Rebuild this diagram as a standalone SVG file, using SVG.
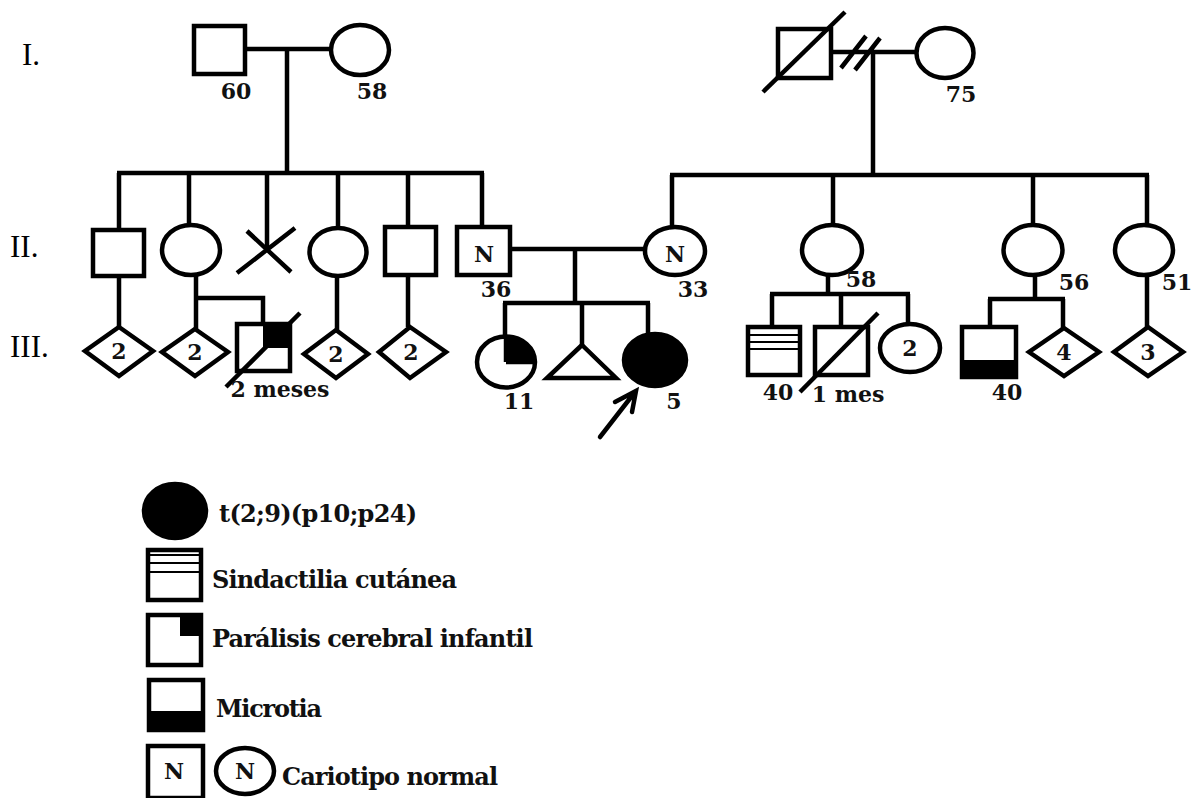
<svg xmlns="http://www.w3.org/2000/svg" width="1197" height="798" viewBox="0 0 1197 798">
<style>
.s{fill:#fff;stroke:#000;stroke-width:4.5}
.f{fill:#000;stroke:#000;stroke-width:4.5}
.b{fill:#000;stroke:none}
.l{fill:none;stroke:#000;stroke-width:4.5}
.t{fill:none;stroke:#000;stroke-width:2}
.lab{font-family:"DejaVu Serif","Liberation Serif",serif;font-weight:bold;font-size:22px;fill:#111;text-anchor:middle}
.leg{font-family:"DejaVu Serif","Liberation Serif",serif;font-weight:bold;font-size:24px;fill:#111}
.gen{font-family:"Liberation Serif",serif;font-size:31px;fill:#000}
</style>
<rect width="1197" height="798" fill="#fff"/>
<g id="generation-labels">
<text class="gen" x="22" y="65">I.</text>
<text class="gen" x="10" y="257">II.</text>
<text class="gen" x="10" y="357">III.</text>
</g>
<g id="connectors">
<path class="l" d="M247,49H331 M287,49V173 M117,173H484 M119,173V230 M189,173V225 M267,173V250 M338,173V228 M408,173V227 M482,173V227"/>
<path class="l" d="M833,52H916 M841,68L866,36 M855,70L880,38 M873,52V175 M670,175H1149 M672,175V226 M833,175V225 M1033,175V225 M1147,175V225"/>
<path class="l" d="M512,249H644 M575,249V303 M503,303H650 M505,303V336 M582,303V345 M648,303V333"/>
<path class="l" d="M119,276V326 M196,275V329 M196,298H263V324 M337,276V330 M408,275V327"/>
<path class="l" d="M828,275V294 M770,294H910 M772,294V327 M841,294V327 M908,294V324 M1035,275V299 M988,299H1065 M990,299V327 M1063,299V328 M1147,275V327"/>
<path class="l" stroke-linecap="round" d="M600,437L635,392 M615,402L636,391L632,412"/>
</g>
<g id="I-1"><rect class="s" x="194" y="26" width="51" height="48"/><text class="lab" x="236" y="99">60</text></g>
<g id="I-2"><ellipse class="s" cx="360" cy="50" rx="29" ry="25"/><text class="lab" x="372" y="99">58</text></g>
<g id="I-3"><rect class="s" x="778" y="29" width="53" height="49"/><path class="l" d="M763,92L845,12"/></g>
<g id="I-4"><ellipse class="s" cx="945" cy="53" rx="28.5" ry="25"/><text class="lab" x="961" y="102">75</text></g>
<g id="II-1"><rect class="s" x="93" y="230" width="51" height="46"/></g>
<g id="II-2"><ellipse class="s" cx="191" cy="250" rx="29" ry="25"/></g>
<g id="II-3"><path class="l" d="M237,273L295,228 M247,231L291,272"/></g>
<g id="II-4"><ellipse class="s" cx="338" cy="252" rx="28.5" ry="24"/></g>
<g id="II-5"><rect class="s" x="385" y="227" width="51" height="48"/></g>
<g id="II-6"><rect class="s" x="457" y="227" width="53" height="48"/><text class="lab" x="484" y="262">N</text><text class="lab" x="496" y="297">36</text></g>
<g id="II-7"><ellipse class="s" cx="675" cy="251" rx="30" ry="24"/><text class="lab" x="675" y="262">N</text><text class="lab" x="693" y="297">33</text></g>
<g id="II-8"><ellipse class="s" cx="832" cy="250" rx="30" ry="25"/><text class="lab" x="861" y="287">58</text></g>
<g id="II-9"><ellipse class="s" cx="1033" cy="250" rx="29.5" ry="25"/><text class="lab" x="1074" y="290">56</text></g>
<g id="II-10"><ellipse class="s" cx="1144" cy="250" rx="29" ry="25"/><text class="lab" x="1177" y="290">51</text></g>
<g id="III-1"><polygon class="s" points="119,327 153,351 119,376 85,351"/><text class="lab" x="119" y="359">2</text></g>
<g id="III-2"><polygon class="s" points="195,329 228,352 195,376 162,352"/><text class="lab" x="195" y="360">2</text></g>
<g id="III-3"><rect class="s" x="237" y="324" width="53" height="47"/><rect class="b" x="263" y="322" width="29" height="26"/><path class="l" d="M226,387L300,313"/><text class="lab" x="280" y="397">2 meses</text></g>
<g id="III-4"><polygon class="s" points="336,330 368,354 336,378 304,354"/><text class="lab" x="336" y="362">2</text></g>
<g id="III-5"><polygon class="s" points="410,327 446,352 410,378 379,352"/><text class="lab" x="411" y="360">2</text></g>
<g id="III-6"><ellipse class="s" cx="506" cy="362" rx="29" ry="25.5"/><path class="b" d="M506,362V336.5A29,25.5 0 0 1 535,362Z"/><path class="l" d="M506,362V336.5M506,362H535"/><text class="lab" x="519" y="409">11</text></g>
<g id="III-7"><polygon class="s" stroke-linejoin="miter" points="582,345 547,378 616,378"/></g>
<g id="III-8"><ellipse class="f" cx="655" cy="360" rx="31" ry="26"/><text class="lab" x="674" y="409">5</text></g>
<g id="III-9"><rect class="s" x="748" y="327" width="52" height="48"/><path class="t" d="M748,335H800 M748,342H800 M748,349H800"/><text class="lab" x="778" y="400">40</text></g>
<g id="III-10"><rect class="s" x="815" y="327" width="53" height="48"/><path class="l" d="M800,392L878,313"/><text class="lab" x="848" y="402">1 mes</text></g>
<g id="III-11"><ellipse class="s" cx="910" cy="348" rx="30" ry="24"/><text class="lab" x="910" y="356">2</text></g>
<g id="III-12"><rect class="s" x="962" y="327" width="54" height="50"/><rect class="b" x="960" y="360" width="58" height="19"/><text class="lab" x="1007" y="400">40</text></g>
<g id="III-13"><polygon class="s" points="1064,328 1099,352 1064,376 1029,352"/><text class="lab" x="1064" y="360">4</text></g>
<g id="III-14"><polygon class="s" points="1148,327 1183,352 1148,376 1114,352"/><text class="lab" x="1148" y="360">3</text></g>
<g id="legend">
<ellipse class="f" cx="175" cy="511" rx="31" ry="27"/>
<text class="leg" x="219" y="522" textLength="198">t(2;9)(p10;p24)</text>
<rect class="s" x="148" y="550" width="53" height="50"/>
<path class="t" d="M148,555H201 M148,563H201 M148,572H201"/>
<text class="leg" x="212" y="588" textLength="245">Sindactilia cutánea</text>
<rect class="s" x="148" y="615" width="53" height="50"/>
<rect class="b" x="180" y="613" width="23" height="23"/>
<text class="leg" x="212" y="647" textLength="321">Parálisis cerebral infantil</text>
<rect class="s" x="149" y="680" width="54" height="50"/>
<rect class="b" x="147" y="711" width="58" height="21"/>
<text class="leg" x="216" y="717" textLength="106">Microtia</text>
<rect class="s" x="148" y="746" width="55" height="52"/>
<text class="lab" x="174" y="779">N</text>
<ellipse class="s" cx="245" cy="771" rx="29" ry="23"/>
<text class="lab" x="245" y="779">N</text>
<text class="leg" x="282" y="785" textLength="216">Cariotipo normal</text>
</g>
</svg>
